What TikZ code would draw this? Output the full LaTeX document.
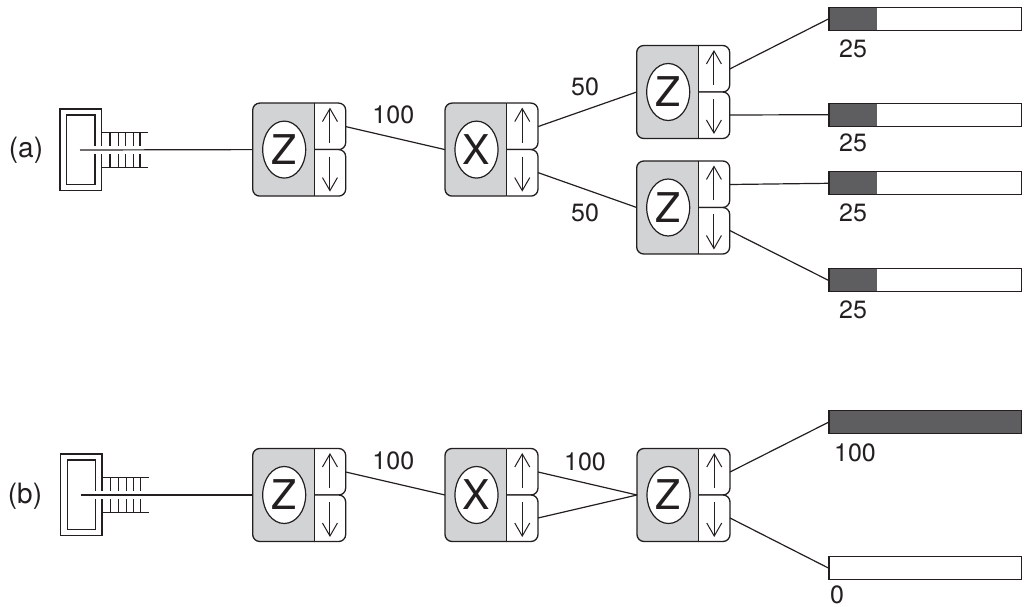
\documentclass[tikz,border=0pt]{standalone}
\usepackage{fontspec}
\setmainfont{TeX Gyre Heros}
\usetikzlibrary{arrows.meta}
\definecolor{ink}{HTML}{231F20}
\definecolor{boxgrey}{HTML}{D2D3D5}
\definecolor{bardark}{HTML}{5E5E60}
\newcommand\numfont{\fontsize{25}{30}\selectfont}
\newcommand\bigfont{\fontsize{41}{48}\selectfont}
\newcommand\tagfont{\fontsize{28}{33}\selectfont}
\tikzset{
  x=1pt, y=-1pt,
  lbl/.style={font=\numfont, text=ink, inner sep=0pt},
  arr/.style={-{Straight Barb[length=13pt,width=15pt,line width=1pt]}, line width=1pt},
  bar/.style={draw=ink, line width=1.3pt, fill=white, minimum width=192.5pt, minimum height=23pt, inner sep=0pt},
  pct/.style={path picture={\fill[bardark] (path picture bounding box.north west) rectangle ([xshift=#1*1.925pt]path picture bounding box.south west);}},
  pics/swbox/.style={code={
    \path[fill=boxgrey, draw=ink, line width=1.3pt, rounded corners=7pt] (61.5,-46.5) -- (0,-46.5) -- (0,46.5) -- (61.5,46.5);
    \path[fill=white, draw=ink, line width=1.3pt, rounded corners=7pt] (61.5,-46.5) -- (93,-46.5) -- (93,0) -- (61.5,0);
    \path[fill=white, draw=ink, line width=1.3pt, rounded corners=7pt] (61.5,0) -- (93,0) -- (93,46.5) -- (61.5,46.5);
    \draw[line width=1.3pt] (61.5,-46.5) -- (61.5,46.5);
    \path[fill=white, draw=ink, line width=1.2pt] (31.5,0) ellipse [x radius=21.5pt, y radius=28.5pt];
    \node[font=\bigfont, text=ink, inner sep=0pt] (-l) at (31.5,0) {#1};
    \draw[arr] (77.25,-7) -- (77.25,-42);
    \draw[arr] (77.25,7) -- (77.25,42);
    \coordinate (-in) at (0,0);
    \coordinate (-up) at (93,-23);
    \coordinate (-dn) at (93,23);
  }},
  pics/plug/.style={code={
    \draw (41.5,-4) -- (41.5,-41) -- (0,-41) -- (0,40.5) -- (41.5,40.5) -- (41.5,4);
    \draw (35,-4) -- (35,-35) -- (6.7,-35) -- (6.7,34.5) -- (35,34.5) -- (35,4);
    \draw (41.5,-17.5) -- (88.3,-17.5);
    \draw (41.5,17.7) -- (88.3,17.7);
    \foreach \t in {50,58.3,65.7,73.3,80}{
      \draw (\t,-17.5) -- (\t,-4);
      \draw (\t,4) -- (\t,17.7);
    }
    \coordinate (-c) at (20,0);
  }}
}
\begin{document}
\begin{tikzpicture}[color=ink, line width=1.2pt]
\useasboundingbox (0,0) rectangle (1029,607);
% ---------- (a)
\node[font=\tagfont, text=ink, inner sep=0pt] (ta) at (26,150) {(a)};
\pic (pa) at (60,150) {plug};
\pic (za1) at (252.7,149.6) {swbox=Z};
\pic (xa) at (445,149.6) {swbox=X};
\pic (za2) at (636.7,92) {swbox=Z};
\pic (za3) at (636.7,207.5) {swbox=Z};
\node[bar, pct=25] (ba1) at (925.25,19) {};
\node[bar, pct=25] (ba2) at (925.25,114.7) {};
\node[bar, pct=25] (ba3) at (925.25,183.3) {};
\node[bar, pct=25] (ba4) at (925.25,280.3) {};
\draw (pa-c) -- (za1-in);
\draw (za1-up) -- (xa-in);
\draw (xa-up) -- (za2-in);
\draw (xa-dn) -- (za3-in);
\draw (za2-up) -- (ba1.west);
\draw (za2-dn) -- (ba2.west);
\draw (za3-up) -- (ba3.west);
\draw (za3-dn) -- (ba4.west);
\node[lbl] (la1) at (393.3,115) {100};
\node[lbl] (la2) at (585,86.7) {50};
\node[lbl] (la3) at (585,213.3) {50};
\node[lbl] (lb1) at (853,49) {25};
\node[lbl] (lb2) at (853,143.3) {25};
\node[lbl] (lb3) at (853,213) {25};
\node[lbl] (lb4) at (853,310) {25};
% ---------- (b)
\node[font=\tagfont, text=ink, inner sep=0pt] (tb) at (25,496) {(b)};
\pic (pb) at (60.5,495) {plug};
\pic (zb1) at (252.7,495) {swbox=Z};
\pic (xb) at (445,495) {swbox=X};
\pic (zb2) at (637,495) {swbox=Z};
\node[bar, pct=100] (bb1) at (925.25,422.3) {};
\node[bar] (bb2) at (925.25,568) {};
\draw (pb-c) -- (zb1-in);
\draw (zb1-up) -- (xb-in);
\draw (xb-up) -- (zb2-in);
\draw (xb-dn) -- (zb2-in);
\draw (zb2-up) -- (bb1.west);
\draw (zb2-dn) -- (bb2.west);
\node[lbl] (lc1) at (393.3,461) {100};
\node[lbl] (lc2) at (585,461.7) {100};
\node[lbl] (lc3) at (855,452.7) {100};
\node[lbl] (lc4) at (837,594.5) {0};
\end{tikzpicture}
\end{document}
